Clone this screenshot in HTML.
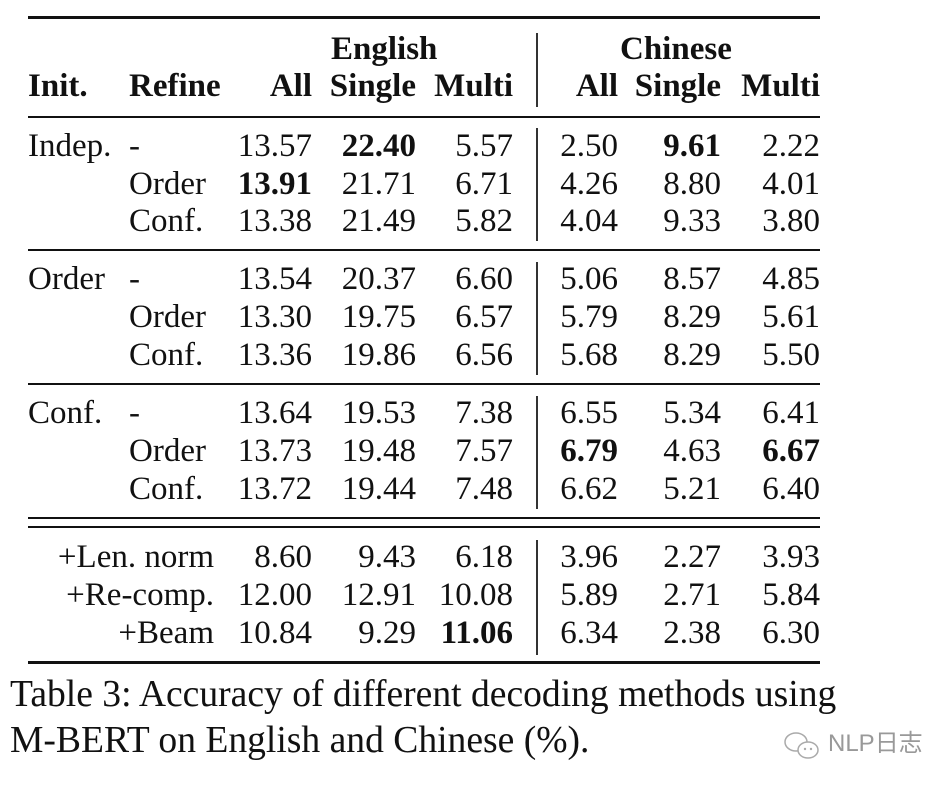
<!DOCTYPE html>
<html><head><meta charset="utf-8"><style>
html,body{margin:0;padding:0;background:#fff;}
body{width:948px;height:788px;position:relative;overflow:hidden;font-family:"Liberation Serif",serif;color:#111;}
.t{position:absolute;font-size:33px;line-height:33px;white-space:nowrap;}
.b{font-weight:bold;}
.r{text-align:right;}
.h{position:absolute;left:28px;width:792px;background:#111;}
.v{position:absolute;left:536px;width:1.5px;background:#333;}
</style></head><body>
<div class="h" style="top:16px;height:3px"></div>
<div class="h" style="top:116px;height:2px"></div>
<div class="h" style="top:249px;height:2px"></div>
<div class="h" style="top:383px;height:2px"></div>
<div class="h" style="top:517px;height:2px"></div>
<div class="h" style="top:526px;height:2px"></div>
<div class="h" style="top:661px;height:3px"></div>
<div class="v" style="top:33px;height:74px"></div>
<div class="v" style="top:128px;height:113px"></div>
<div class="v" style="top:262px;height:113px"></div>
<div class="v" style="top:396px;height:113px"></div>
<div class="v" style="top:540px;height:115px"></div>

<div class="t b" style="left:331px;top:33px">English</div>
<div class="t b" style="left:620px;top:33px">Chinese</div>

<div id="rows"></div>
<script>
var rights=[312,416,513,618,721,820];
var rows=[
 [70,['Init.','Refine','All','Single','Multi','All','Single','Multi'],'hdr'],
 [130,['Indep.','-','13.57','*22.40','5.57','2.50','*9.61','2.22']],
 [167.5,['','Order','*13.91','21.71','6.71','4.26','8.80','4.01']],
 [205,['','Conf.','13.38','21.49','5.82','4.04','9.33','3.80']],
 [263,['Order','-','13.54','20.37','6.60','5.06','8.57','4.85']],
 [301,['','Order','13.30','19.75','6.57','5.79','8.29','5.61']],
 [339,['','Conf.','13.36','19.86','6.56','5.68','8.29','5.50']],
 [397,['Conf.','-','13.64','19.53','7.38','6.55','5.34','6.41']],
 [435,['','Order','13.73','19.48','7.57','*6.79','4.63','*6.67']],
 [473,['','Conf.','13.72','19.44','7.48','6.62','5.21','6.40']],
 [541,['@+Len. norm','','8.60','9.43','6.18','3.96','2.27','3.93']],
 [579,['@+Re-comp.','','12.00','12.91','10.08','5.89','2.71','5.84']],
 [617,['@+Beam','','10.84','9.29','*11.06','6.34','2.38','6.30']]
];
var h='';
rows.forEach(function(r){
 var top=r[0],c=r[1],hd=r[2]?' b':'';
 if(c[0]){
  if(c[0][0]=='@') h+='<div class="t r" style="right:'+(948-214)+'px;top:'+top+'px">'+c[0].slice(1)+'</div>';
  else h+='<div class="t'+hd+'" style="left:28px;top:'+top+'px">'+c[0]+'</div>';
 }
 if(c[1]) h+='<div class="t'+hd+'" style="left:129px;top:'+top+'px">'+c[1]+'</div>';
 for(var i=0;i<6;i++){var s=c[i+2],b=hd;if(s[0]=='*'){s=s.slice(1);b=' b';}
  h+='<div class="t r'+b+'" style="right:'+(948-rights[i])+'px;top:'+top+'px">'+s+'</div>';}
});
document.getElementById('rows').innerHTML=h;
</script>
<div class="t" style="left:10px;top:676px;font-size:37.6px;line-height:37px">Table 3: Accuracy of different decoding methods using</div>
<div class="t" style="left:10px;top:722px;font-size:37.6px;line-height:37px">M-BERT on English and Chinese (%).</div>
<svg style="position:absolute;left:783px;top:730px" width="40" height="32" viewBox="0 0 40 32">
<ellipse cx="13" cy="12" rx="11" ry="9" fill="none" stroke="#aaa" stroke-width="1.5"/>
<ellipse cx="25" cy="20" rx="10" ry="8" fill="#fff" stroke="#aaa" stroke-width="1.5"/>
<circle cx="22" cy="19" r="1.2" fill="#aaa"/><circle cx="28" cy="19" r="1.2" fill="#aaa"/>
</svg>
<div class="t" style="left:828px;top:731px;font-size:24px;line-height:26px;color:#999;font-family:'Liberation Sans','Noto Sans CJK SC',sans-serif">NLP日志</div>
</body></html>
